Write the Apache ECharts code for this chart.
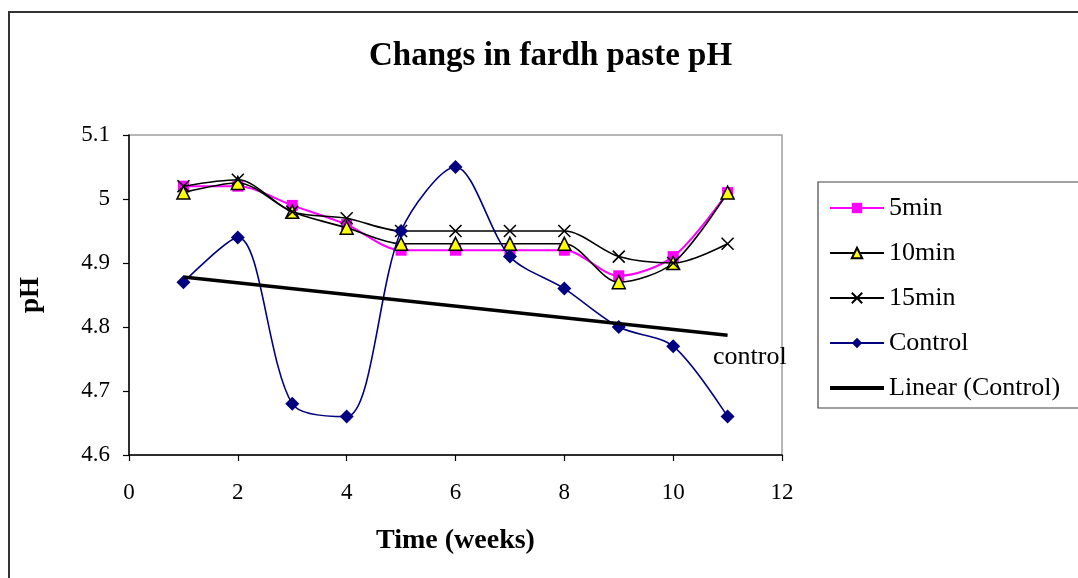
<!DOCTYPE html>
<html>
<head>
<meta charset="utf-8">
<script src="https://cdn.jsdelivr.net/npm/echarts@6/dist/echarts.min.js"></script>
<style>html,body{margin:0;padding:0;background:#fff}#c{width:1078px;height:578px}</style>
</head>
<body>
<div id="c"></div>
<script>
const weeks = [1, 2, 3, 4, 5, 6, 7, 8, 9, 10, 11];
const ph5min = [5.02, 5.02, 4.99, 4.96, 4.92, 4.92, 4.92, 4.92, 4.88, 4.91, 5.01];
const ph10min = [5.01, 5.025, 4.98, 4.955, 4.93, 4.93, 4.93, 4.93, 4.87, 4.90, 5.01];
const ph15min = [5.02, 5.03, 4.98, 4.97, 4.95, 4.95, 4.95, 4.95, 4.91, 4.90, 4.93];
const phControl = [4.87, 4.94, 4.68, 4.66, 4.95, 5.05, 4.91, 4.86, 4.80, 4.77, 4.66];
const trendX = [1, 11];
const trendY = [4.878, 4.787];
const xTicks = { min: 0, max: 12, step: 2 };
const yTicks = { min: 4.6, max: 5.1, step: 0.1 };

const F = "'Liberation Serif', 'Times New Roman', serif";
const pair = (xs, ys) => xs.map((x, i) => [x, ys[i]]);
const crossPath = 'path://M0,0L10,10M10,0L0,10';
const SMOOTH = 0.3;

const chart = echarts.init(document.getElementById('c'), null, { renderer: 'canvas' });
chart.setOption({
  backgroundColor: '#fff',
  animation: false,
  title: {
    text: 'Changs in fardh paste pH',
    left: 369, top: 40, padding: 0,
    textStyle: { fontFamily: F, fontSize: 33, fontWeight: 'bold', color: '#000' }
  },
  graphic: [
    { type: 'rect', silent: true, z: -10,
      shape: { x: 9, y: 12, width: 1200, height: 700 },
      style: { fill: 'none', stroke: '#333', lineWidth: 2 } },
    { type: 'text', left: 713, top: 344, z: 50,
      style: { text: 'control', font: "26px 'Liberation Serif', serif", fill: '#000' } }
  ],
  grid: {
    left: 129, top: 135, width: 653, height: 320,
    show: true, borderColor: '#a0a0a0', borderWidth: 1.5, backgroundColor: '#fff'
  },
  legend: {
    orient: 'vertical', left: 818, top: 182,
    padding: [12, 40, 6, 10],
    itemWidth: 54, itemHeight: 13, itemGap: 17,
    borderColor: '#444', borderWidth: 1.2, backgroundColor: '#fff',
    textStyle: { fontFamily: F, fontSize: 26, color: '#000', lineHeight: 28 },
    data: [
      { name: '5min' },
      { name: '10min' },
      { name: '15min' },
      { name: 'Control' },
      { name: 'Linear (Control)',
        itemStyle: { color: 'rgba(0,0,0,0)', borderColor: 'rgba(0,0,0,0)', borderWidth: 0, opacity: 0 },
        lineStyle: { width: 4, color: '#000' } }
    ]
  },
  xAxis: {
    type: 'value', min: xTicks.min, max: xTicks.max, interval: xTicks.step,
    name: 'Time (weeks)', nameLocation: 'middle', nameGap: 72,
    nameTextStyle: { fontFamily: F, fontSize: 28, fontWeight: 'bold', color: '#000' },
    axisLine: { show: true, onZero: false, lineStyle: { color: '#000', width: 1.5 } },
    axisTick: { show: true, inside: false, length: 6, lineStyle: { color: '#000', width: 1.2 } },
    axisLabel: { fontFamily: F, fontSize: 23, color: '#000', margin: 26 },
    splitLine: { show: false }
  },
  yAxis: {
    type: 'value', min: yTicks.min, max: yTicks.max, interval: yTicks.step,
    name: 'pH', nameLocation: 'middle', nameGap: 84, nameRotate: 90,
    nameTextStyle: { fontFamily: F, fontSize: 27, fontWeight: 'bold', color: '#000' },
    axisLine: { show: true, lineStyle: { color: '#000', width: 1.5 } },
    axisTick: { show: true, inside: false, length: 6, lineStyle: { color: '#000', width: 1.2 } },
    axisLabel: { fontFamily: F, fontSize: 23, color: '#000', margin: 19,
      formatter: v => String(+(+v).toFixed(1)) },
    splitLine: { show: false }
  },
  series: [
    { name: '5min', type: 'line', smooth: SMOOTH, data: pair(weeks, ph5min),
      symbol: 'rect', symbolSize: 11,
      lineStyle: { color: '#ff00ff', width: 2 },
      itemStyle: { color: '#ff00ff' }, z: 2 },
    { name: '10min', type: 'line', smooth: SMOOTH, data: pair(weeks, ph10min),
      symbol: 'triangle', symbolSize: 13,
      lineStyle: { color: '#000', width: 1.6 },
      itemStyle: { color: '#ffff00', borderColor: '#000', borderWidth: 1.5 }, z: 3 },
    { name: '15min', type: 'line', smooth: SMOOTH, data: pair(weeks, ph15min),
      symbol: crossPath, symbolSize: 12,
      lineStyle: { color: '#000', width: 1.6 },
      itemStyle: { color: 'rgba(0,0,0,0)', borderColor: '#000', borderWidth: 1.6 }, z: 4 },
    { name: 'Control', type: 'line', smooth: SMOOTH, data: pair(weeks, phControl),
      symbol: 'diamond', symbolSize: 14,
      lineStyle: { color: '#000080', width: 1.6 },
      itemStyle: { color: '#000080' }, z: 5 },
    { name: 'Linear (Control)', type: 'line', data: pair(trendX, trendY),
      symbol: 'none', showSymbol: false,
      lineStyle: { color: '#000', width: 3.5 },
      itemStyle: { color: '#000' }, z: 6 }
  ]
});
</script>
</body>
</html>
